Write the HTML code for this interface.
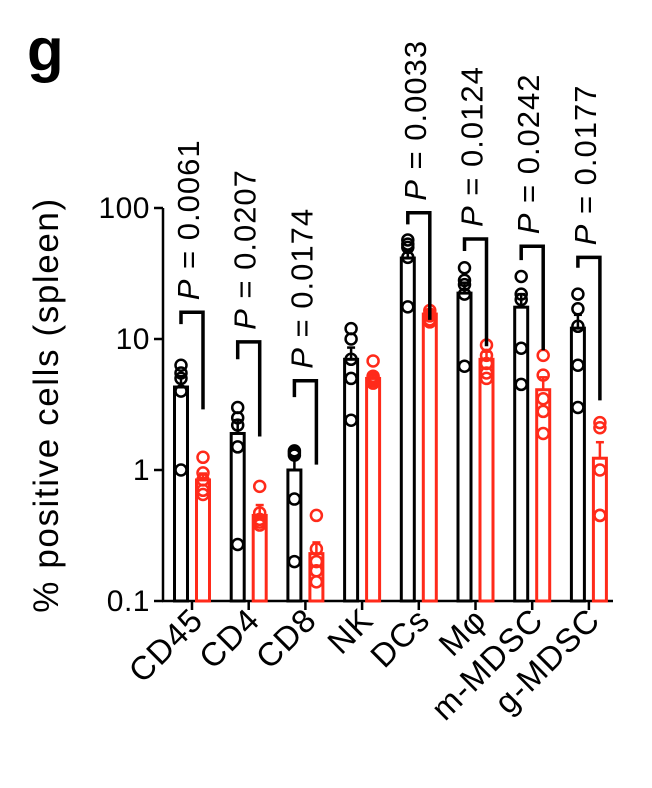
<!DOCTYPE html>
<html><head><meta charset="utf-8"><style>
html,body{margin:0;padding:0;background:#fff;}
svg{display:block;font-family:"Liberation Sans",sans-serif;}
</style></head><body>
<svg id="chart" width="652" height="788" viewBox="0 0 652 788">
<text x="27" y="70" font-size="60" font-weight="bold">g</text>
<g id="plot"></g>
</svg>
<script>
const categories=["CD45","CD4","CD8","NK","DCs","Mφ","m-MDSC","g-MDSC"];
const blackMeans=[4.3,1.9,1.0,7.0,41.5,22.4,17.5,12.1];
const redMeans=[0.84,0.45,0.23,5.0,15.5,7.0,4.1,1.23];
const blackErr=[0.9,0.5,0.25,1.6,6,4.5,4.5,3.2];
const redErr=[0.1,0.09,0.05,0.4,0.6,1.0,1.0,0.4];
const blackPts=[[6.3,5.5,5.0,4.0,1.0],[3.0,2.5,2.2,1.5,0.27],[1.4,1.35,1.3,0.6,0.2],[12,10,7,5,2.4],[57,53,50,42,17.6],[35,28,26,22,6.2],[30,22,20,8.5,4.5],[22,17,12.5,6.3,3.0]];
const redPts=[[1.25,0.95,0.84,0.7,0.65],[0.75,0.47,0.42,0.4,0.38],[0.45,0.25,0.2,0.17,0.14],[6.8,5.2,5.0,4.8,4.6],[16.5,15.5,15,14,13.5],[9,7.5,6.5,5.5,5],[7.5,5.3,3.5,2.8,1.9],[2.3,2.1,1.0,0.45,0.45]];
const pLabels=["0.0061","0.0207","0.0174",null,"0.0033","0.0124","0.0242","0.0177"];
const bracketTop=[16,9.5,4.8,null,92,58,51,42];
const bracketLeft=[13,7,3.6,null,75,47,40,35];
const bracketRight=[2.9,1.8,1.1,null,14,8.8,8.2,3.4];
const yTicks=[0.1,1,10,100];
const yTickLabels=["0.1","1","10","100"];

const NS="http://www.w3.org/2000/svg";
const g=document.getElementById('plot');
function y(v){return 601-131*(Math.log10(v)+1);}
function xc(i){return 192+56.7*i;}
function el(t,a,p){const e=document.createElementNS(NS,t);for(const k in a)e.setAttribute(k,a[k]);(p||g).appendChild(e);return e;}
const BLK="#000",RED="#ff2a1a";
let ax=el('line',{x1:163,y1:208,x2:163,y2:601,stroke:BLK,'stroke-width':2.5});


let bx=el('line',{x1:162,y1:601,x2:613,y2:601,stroke:BLK,'stroke-width':2.5});


yTicks.forEach((v,i)=>{
  const t=el('line',{x1:154,y1:y(v),x2:163,y2:y(v),stroke:BLK,'stroke-width':2.5});
  
  
  const l=el('text',{x:150,y:y(v)+10,'text-anchor':'end','font-size':30,'letter-spacing':0.5});
  l.textContent=yTickLabels[i];
  
  
});
const yt=el('text',{x:0,y:0,'text-anchor':'middle','font-size':35,'letter-spacing':1.6,transform:'translate(58,405) rotate(-90)'});
yt.textContent='% positive cells (spleen)';


function bar(cx,mean,err,pts,col,name){
  const b=el('rect',{x:cx-6.5,y:y(mean),width:13,height:601-y(mean),fill:'none',stroke:col,'stroke-width':3});
  
  
  const e=el('line',{x1:cx,y1:y(mean),x2:cx,y2:y(mean+err),stroke:col,'stroke-width':2.5});
  
  
  el('line',{x1:cx-4,y1:y(mean+err),x2:cx+4,y2:y(mean+err),stroke:col,'stroke-width':2.5});
  pts.forEach(v=>{
    const c=el('circle',{cx:cx,cy:y(v),r:5.5,fill:'none',stroke:col,'stroke-width':2.5});
    
    
  });
}
categories.forEach((c,i)=>{
  const cx=xc(i);
  bar(cx-11,blackMeans[i],blackErr[i],blackPts[i],BLK,'control');
  bar(cx+11,redMeans[i],redErr[i],redPts[i],RED,'treated');
  const tk=el('line',{x1:cx,y1:601,x2:cx,y2:610,stroke:BLK,'stroke-width':2.5});
  
  
  const lb=el('text',{x:0,y:0,'text-anchor':'end','font-size':33,'letter-spacing':1,transform:`translate(${cx+13},${622}) rotate(-45)`});
  lb.textContent=c;
  
  
  if(pLabels[i]){
    const yt0=y(bracketTop[i]);
    const br=el('polyline',{points:`${cx-11},${y(bracketLeft[i])} ${cx-11},${yt0} ${cx+11},${yt0} ${cx+11},${y(bracketRight[i])}`,fill:'none',stroke:BLK,'stroke-width':3.5});
    
    
    const pt=el('text',{x:0,y:0,'font-size':31,'letter-spacing':1,transform:`translate(${cx+7},${yt0-12}) rotate(-90)`});
    pt.innerHTML='<tspan font-style="italic">P</tspan> = '+pLabels[i];
    
    
  }
});
</script>
</body></html>
